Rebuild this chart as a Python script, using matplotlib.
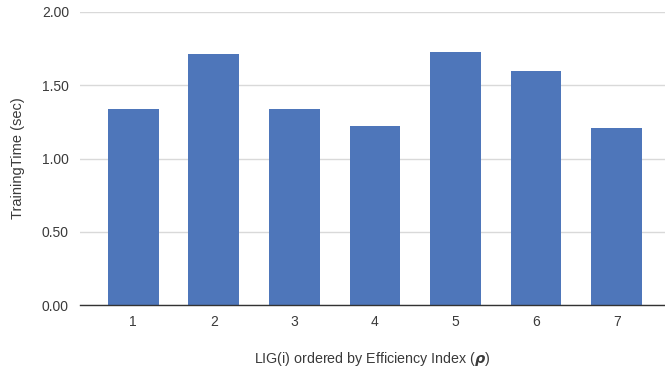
import matplotlib

matplotlib.use("Agg")

import matplotlib.pyplot as plt

# Training time per LIG(i), ordered by efficiency index
lig_labels = ["1", "2", "3", "4", "5", "6", "7"]
training_time = [1.34, 1.71, 1.34, 1.22, 1.73, 1.60, 1.21]
y_ticks = [0.0, 0.5, 1.0, 1.5, 2.0]

BAR_COLOR = "#4e76ba"
TEXT_COLOR = "#3a3a3a"

plt.rcParams["font.family"] = ["Liberation Sans", "DejaVu Sans"]

fig = plt.figure(figsize=(6.65, 3.69), dpi=100)
ax = fig.add_axes([0.1203, 0.1734, 0.8797, 0.7941])

positions = list(range(1, len(lig_labels) + 1))
ax.bar(positions, training_time, width=0.63, color=BAR_COLOR, zorder=3)

ax.set_xlim(0.34, 7.6)
ax.set_ylim(0, 2.0)
ax.set_xticks(positions)
ax.set_xticklabels(lig_labels)
ax.set_yticks(y_ticks)
ax.set_yticklabels([f"{v:.2f}" for v in y_ticks])

ax.grid(axis="y", color="#d9d9d9", linewidth=1.0, zorder=0)
for side in ("top", "right", "left"):
    ax.spines[side].set_visible(False)
ax.spines["bottom"].set_color("#333333")
ax.spines["bottom"].set_linewidth(1.0)
ax.spines["bottom"].set_zorder(4)

ax.tick_params(axis="both", length=0, labelsize=10, colors=TEXT_COLOR)
ax.tick_params(axis="x", pad=7)
ax.tick_params(axis="y", pad=8)

ax.set_ylabel("TrainingTime (sec)", fontsize=10.5, color=TEXT_COLOR, labelpad=12)
ax.set_xlabel(r"LIG(i) ordered by Efficiency Index ($\boldsymbol{\rho}$)",
              fontsize=10.3, color=TEXT_COLOR, labelpad=15)

fig.savefig("out.png", dpi=100)
plt.close(fig)
